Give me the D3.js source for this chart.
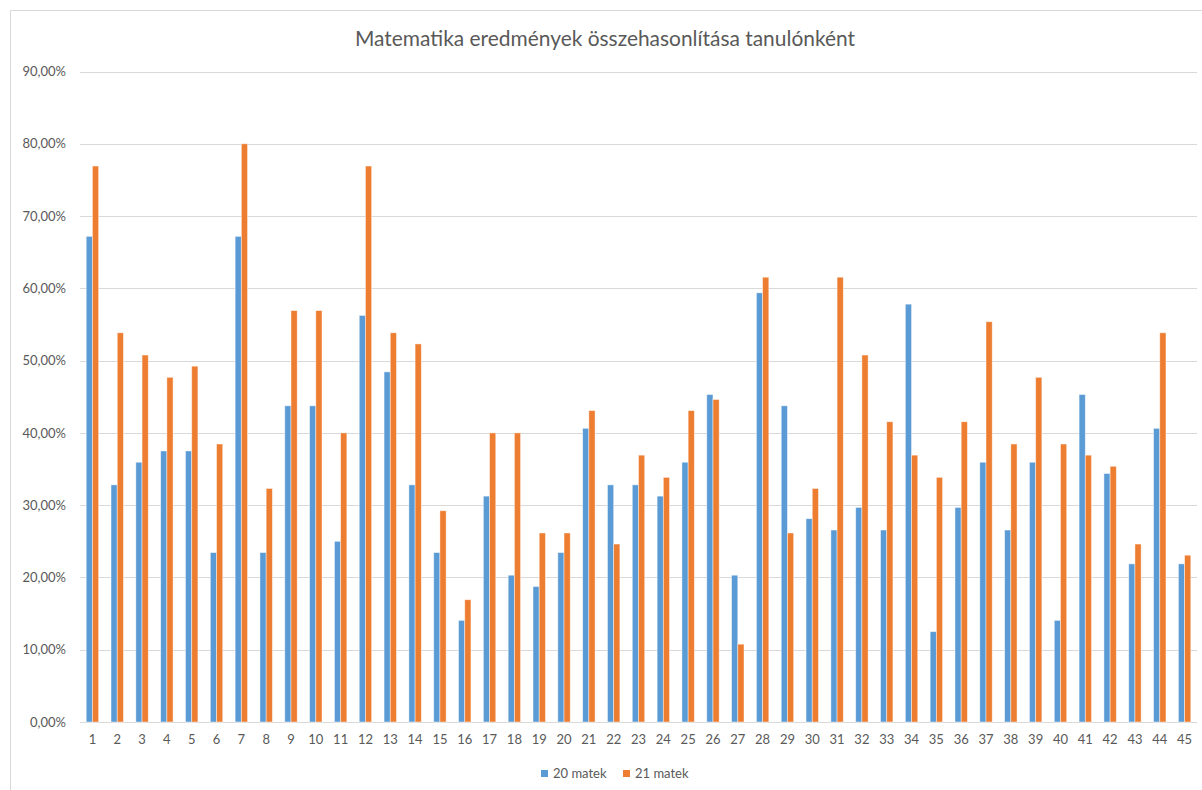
<!DOCTYPE html>
<html>
<head>
<meta charset="utf-8">
<script src="https://cdn.jsdelivr.net/npm/d3@7"></script>
<style>
  html, body { margin: 0; padding: 0; background: #fff; }
  svg { display: block; font-family: Lato, "Open Sans", sans-serif; }
</style>
</head>
<body>
<svg id="chart" width="1202" height="790"></svg>
<script>
// Student numbers 1..45
const students = d3.range(1, 46).map(String);

// Results in percent
const matek20 = [67.19, 32.81, 35.94, 37.50, 37.50, 23.44, 67.19, 23.44, 43.75, 43.75,
                 25.00, 56.25, 48.44, 32.81, 23.44, 14.06, 31.25, 20.31, 18.75, 23.44,
                 40.63, 32.81, 32.81, 31.25, 35.94, 45.31, 20.31, 59.38, 43.75, 28.13,
                 26.56, 29.69, 26.56, 57.81, 12.50, 29.69, 35.94, 26.56, 35.94, 14.06,
                 45.31, 34.38, 21.88, 40.63, 21.88];
const matek21 = [76.92, 53.85, 50.77, 47.69, 49.23, 38.46, 80.00, 32.31, 56.92, 56.92,
                 40.00, 76.92, 53.85, 52.31, 29.23, 16.92, 40.00, 40.00, 26.15, 26.15,
                 43.08, 24.62, 36.92, 33.85, 43.08, 44.62, 10.77, 61.54, 26.15, 32.31,
                 61.54, 50.77, 41.54, 36.92, 33.85, 41.54, 55.38, 38.46, 47.69, 38.46,
                 36.92, 35.38, 24.62, 53.85, 23.08];

const seriesNames = ["20 matek", "21 matek"];
const seriesColors = ["#5B9BD5", "#ED7D31"];
const yTicks = [0, 10, 20, 30, 40, 50, 60, 70, 80, 90];
const title = "Matematika eredmények összehasonlítása tanulónként";

const svg = d3.select("#chart");
const textColor = "#595959";
const gridColor = "#d9d9d9";

// chart area frame
svg.append("rect")
  .attr("x", 10.5).attr("y", 10.5)
  .attr("width", 1200).attr("height", 800)
  .attr("fill", "#fff").attr("stroke", gridColor).attr("stroke-width", 1);

const plot = { left: 80, right: 1197, top: 71.5, bottom: 722 };

const x = d3.scaleBand()
  .domain(students)
  .range([plot.left, plot.right])
  .paddingInner(0.5)
  .paddingOuter(0.25);

const xs = d3.scaleBand()
  .domain(seriesNames)
  .range([0, x.bandwidth()]);

const y = d3.scaleLinear()
  .domain([0, 90])
  .range([plot.bottom, plot.top]);

const huLocale = d3.formatLocale({ decimal: ",", thousands: " ", grouping: [3], currency: ["", " Ft"] });
const pct = huLocale.format(".2%");

// gridlines
svg.append("g")
  .selectAll("line")
  .data(yTicks)
  .join("line")
  .attr("x1", plot.left).attr("x2", plot.right)
  .attr("y1", d => Math.round(y(d)) + 0.5)
  .attr("y2", d => Math.round(y(d)) + 0.5)
  .attr("stroke", gridColor)
  .attr("stroke-width", 1.2);

// y axis labels
const yAxis = svg.append("g")
  .attr("transform", `translate(${plot.left},0)`)
  .call(d3.axisLeft(y).tickValues(yTicks).tickSize(0).tickPadding(14)
    .tickFormat(d => pct(d / 100)));
yAxis.select(".domain").remove();
yAxis.selectAll("text")
  .attr("fill", textColor)
  .style("font-size", "13px")
  .style("font-family", "Lato, 'Open Sans', sans-serif");

// x axis labels
const xAxis = svg.append("g")
  .attr("transform", `translate(0,${plot.bottom})`)
  .call(d3.axisBottom(x).tickSize(0).tickPadding(13));
xAxis.select(".domain").remove();
xAxis.selectAll("text")
  .attr("fill", textColor)
  .style("font-size", "13px")
  .style("font-family", "Lato, 'Open Sans', sans-serif");

// bars
const rows = students.map((s, i) => ({ s, vals: [matek20[i], matek21[i]] }));
const groups = svg.append("g")
  .selectAll("g")
  .data(rows)
  .join("g")
  .attr("transform", d => `translate(${x(d.s)},0)`);

groups.selectAll("rect")
  .data(d => d.vals.map((v, k) => ({ name: seriesNames[k], v, k })))
  .join("rect")
  .attr("x", d => xs(d.name))
  .attr("width", xs.bandwidth())
  .attr("y", d => y(d.v))
  .attr("height", d => y(0) - y(d.v))
  .attr("fill", d => seriesColors[d.k])
  .attr("stroke", "#fff")
  .attr("stroke-opacity", 0.55)
  .attr("stroke-width", 0.8);

// title
svg.append("text")
  .attr("x", 605).attr("y", 46)
  .attr("text-anchor", "middle")
  .attr("fill", textColor)
  .attr("textLength", 500)
  .attr("lengthAdjust", "spacingAndGlyphs")
  .style("font-size", "21px")
  .text(title);

// legend
const legend = svg.append("g").attr("transform", "translate(541,770)");
const legendX = [0, 82];
seriesNames.forEach((name, k) => {
  const g = legend.append("g").attr("transform", `translate(${legendX[k]},0)`);
  g.append("rect").attr("x", 0).attr("y", 0).attr("width", 7).attr("height", 7)
    .attr("fill", seriesColors[k]);
  g.append("text").attr("x", 12).attr("y", 8)
    .attr("fill", textColor)
    .style("font-size", "13px")
    .text(name);
});
</script>
</body>
</html>
